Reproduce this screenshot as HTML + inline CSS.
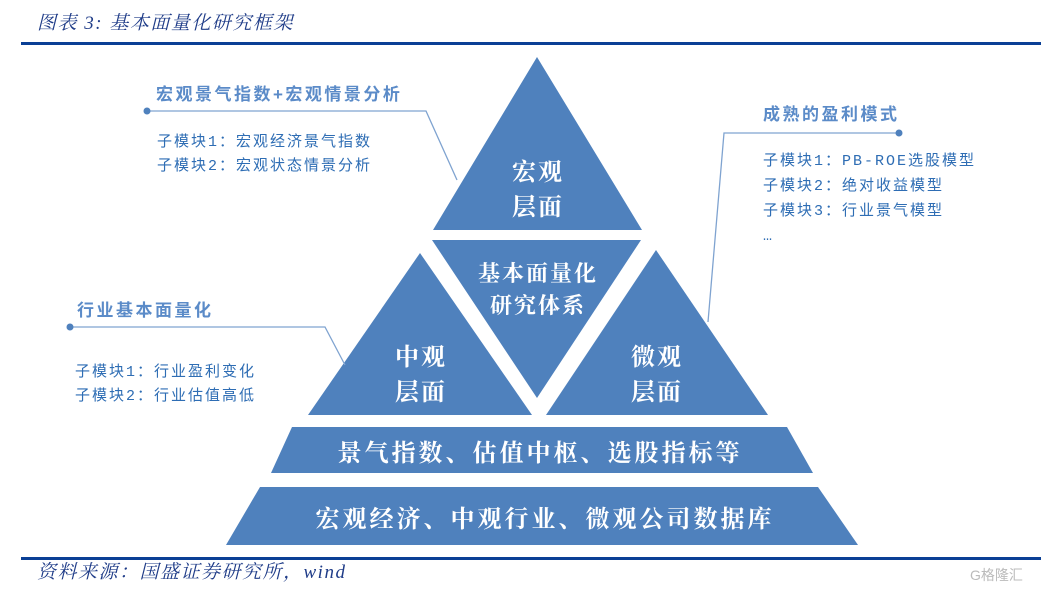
<!DOCTYPE html>
<html><head><meta charset="utf-8"><style>
body{margin:0;width:1048px;height:590px;background:#fff;overflow:hidden;}
svg{display:block}
</style></head><body>
<svg width="1048" height="590" xmlns="http://www.w3.org/2000/svg" font-family="Liberation Sans, Noto Sans CJK SC, sans-serif">
<text x="37" y="29" font-size="19" font-style="italic" fill="#1F3C88" letter-spacing="1.5" font-family="Liberation Serif, Noto Serif CJK SC, serif">图表 3:  基本面量化研究框架</text>
<rect x="21" y="42" width="1020" height="3" fill="#0A3F95"/>
<g fill="#4F81BD">
<polygon points="537,57 642,230 433,230"/>
<polygon points="432,240 641,240 537,398"/>
<polygon points="420,253 532,415 308,415"/>
<polygon points="656,250 768,415 546,415"/>
<polygon points="292,427 787,427 813,473 271,473"/>
<polygon points="260,487 818,487 858,545 226,545"/>
</g>
<g fill="#fff" font-size="24" font-weight="bold" text-anchor="middle" font-family="Noto Serif CJK SC, serif" letter-spacing="2">
<text x="538" y="180">宏观</text><text x="538" y="215">层面</text>
<text x="538" y="281" font-size="22">基本面量化</text><text x="538" y="313" font-size="22">研究体系</text>
<text x="421" y="365">中观</text><text x="421" y="400">层面</text>
<text x="657" y="365">微观</text><text x="657" y="400">层面</text>
<text x="540" y="461" font-size="24" letter-spacing="3">景气指数、估值中枢、选股指标等</text>
<text x="545" y="527" font-size="24" letter-spacing="3">宏观经济、中观行业、微观公司数据库</text>
</g>
<g stroke="#7FA3D0" stroke-width="1.3" fill="none">
<polyline points="147,111 426,111 457,180"/>
<polyline points="70,327 325,327 345,365"/>
<polyline points="899,133 724,133 708,322"/>
</g>
<g fill="#4F81BD"><circle cx="147" cy="111" r="3.5"/><circle cx="70" cy="327" r="3.5"/><circle cx="899" cy="133" r="3.5"/></g>
<g fill="#5B8BC8" font-weight="bold" font-size="17" letter-spacing="2.5">
<text x="156" y="100">宏观景气指数+宏观情景分析</text>
<text x="77" y="316">行业基本面量化</text>
<text x="763" y="120">成熟的盈利模式</text>
</g>
<g fill="#2E6DB4" font-size="15" letter-spacing="2" font-family="Liberation Mono, Noto Sans CJK SC, monospace">
<text x="157" y="146">子模块1：宏观经济景气指数</text>
<text x="157" y="170">子模块2：宏观状态情景分析</text>
<text x="75" y="376">子模块1：行业盈利变化</text>
<text x="75" y="400">子模块2：行业估值高低</text>
<text x="763" y="165">子模块1：PB-ROE选股模型</text>
<text x="763" y="190">子模块2：绝对收益模型</text>
<text x="763" y="215">子模块3：行业景气模型</text>
<text x="763" y="240">…</text>
</g>
<rect x="21" y="557" width="1020" height="3" fill="#0A3F95"/>
<text x="37" y="578" font-size="19" font-style="italic" fill="#1F3C88" letter-spacing="1.5" font-family="Liberation Serif, Noto Serif CJK SC, serif">资料来源：国盛证券研究所，wind</text>
<text x="970" y="580" font-size="14" fill="#bbb">G格隆汇</text>
</svg>
</body></html>
